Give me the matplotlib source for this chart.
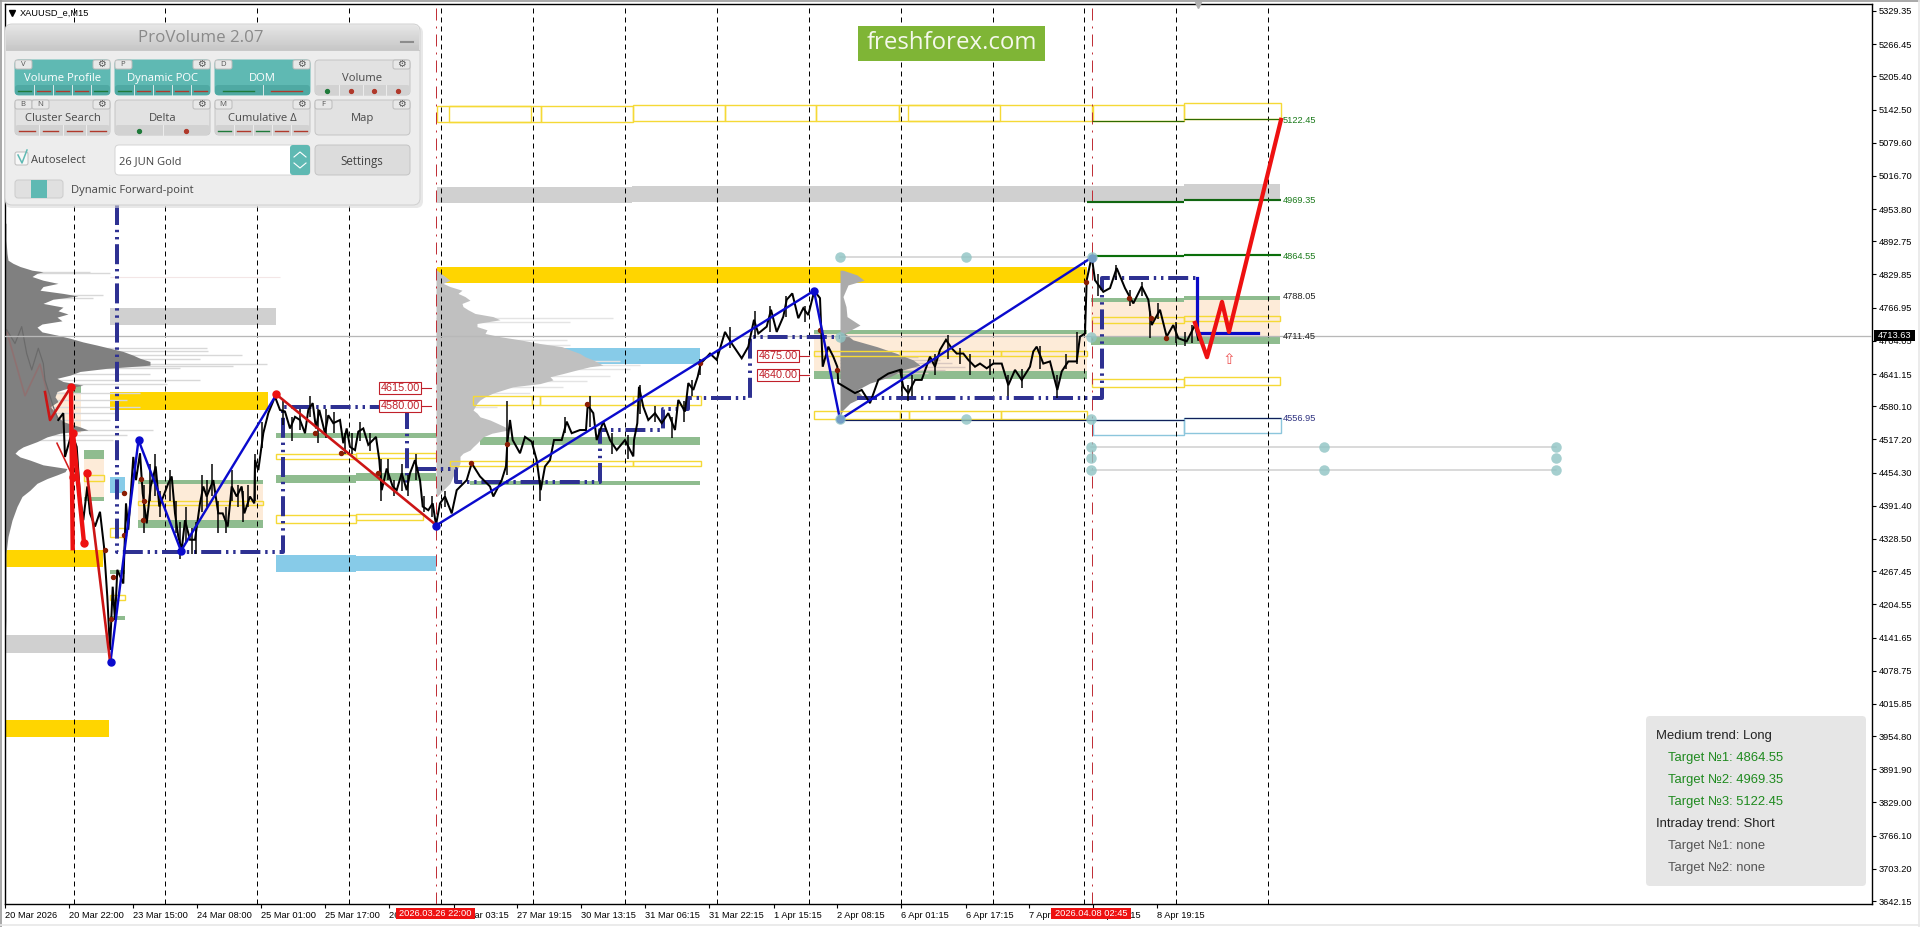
"""XAUUSD M15 chart with the ProVolume panel, zigzags and volume profiles."""
import numpy as np
import matplotlib
matplotlib.use("Agg")
import matplotlib.pyplot as plt
from matplotlib.patches import Rectangle, FancyBboxPatch

W, H = 1920, 927
LEFT, RIGHT, TOP, BOTTOM = 5, 1872, 4, 904
Y_LOW, Y_HIGH = 3636.5, 5342.6

# axis labels
ytick_vals = [5329.35, 5266.45, 5205.40, 5142.50, 5079.60, 5016.70, 4953.80, 4892.75, 4829.85,
              4766.95, 4704.05, 4641.15, 4580.10, 4517.20, 4454.30, 4391.40, 4328.50, 4267.45,
              4204.55, 4141.65, 4078.75, 4015.85, 3954.80, 3891.90, 3829.00, 3766.10, 3703.20, 3642.15]
xtick_bars = [5, 69, 133, 197, 261, 325, 389, 453.5, 517, 581, 645, 709, 773.5, 837, 901, 965.5, 1029, 1093, 1157]
xtick_labels = ["20 Mar 2026", "20 Mar 22:00", "23 Mar 15:00", "24 Mar 08:00", "25 Mar 01:00", "25 Mar 17:00",
                "26 Mar 10:00", "27 Mar 03:15", "27 Mar 19:15", "30 Mar 13:15", "31 Mar 06:15", "31 Mar 22:15",
                "1 Apr 15:15", "2 Apr 08:15", "6 Apr 01:15", "6 Apr 17:15", "7 Apr 10:15", "8 Apr 03:15", "8 Apr 19:15"]
grid_bars = [73.5, 165.4, 257.3, 349.2, 441.1, 533, 624.9, 716.8, 808.7, 900.6, 992.5, 1084.4, 1176.3, 1268.2]
session_bars = [436, 1091.5]
current_price = 4713.63

# price path
price_x = [6.7, 15, 21.7, 26.7, 31.7, 38.3, 43.3, 45, 53.3, 58.3, 63.3, 65, 71.7, 76.7, 80, 83.3, 87.3, 90, 95, 100,
           104, 107.3, 110, 112.7, 115, 117.3, 123.3, 126, 128.3, 133.3, 136, 140, 142.7, 146.7, 150.7, 155.7,
           159.3, 163.3, 168.3, 171.7, 175, 178.3, 181.7, 185, 190, 195, 200, 203.3, 206.7, 213.3, 218.3, 222.7,
           227.7, 231.7, 236.7, 241.7, 244.3, 250, 254.3, 255, 258.3, 263.3, 268.3, 275, 280, 285, 290, 295, 300,
           305, 308.3, 312.7, 316, 319.3, 325, 328.3, 333.3, 340, 343.3, 346.7, 350, 355, 358.3, 363.3, 368.3, 376,
           379.3, 381.7, 386.7, 392.7, 396.7, 401.7, 406.7, 410, 415, 420, 422.7, 428.3, 432.7, 436,
           440, 445, 451.7, 456.7, 466.7, 471.7, 480, 490, 493.3, 501.7, 506, 507.3, 510, 512.7, 520, 525, 531.7,
           536.7, 540.7, 545, 550, 554, 561.7, 566.7, 571.7, 580, 586, 587.7, 593.3, 596.7, 603.3, 610, 616.7, 625,
           633.3, 634, 637.3, 639, 643.3, 648.3, 655, 661.7, 668.3, 675, 678.3, 685, 688.3, 693.3, 697.7, 700.7,
           710, 716.7, 725, 731.7, 741.7, 748.3, 754, 758.3, 766.7, 771, 776.7, 783.3, 786.7, 792.3, 798.3, 803.3,
           808.3, 814.3, 820, 821.7, 822.7, 828.3, 833.3, 837.3, 838.3,
           855, 861.7, 870, 878.3, 888.3, 900, 903.3, 908.3, 915, 921.7, 930, 935, 940, 946, 951.7, 956.7, 963.3,
           968.3, 975, 980, 986.7, 993.3, 1001.7, 1008.3, 1015, 1021.7, 1030, 1033.3, 1036.7, 1043.3, 1050, 1057.3,
           1061.7, 1068.3, 1076.7, 1080, 1085, 1086.7, 1091.7, 1095, 1103.3, 1110, 1116.7, 1125, 1133.3, 1141.7,
           1148.3, 1151.7, 1160, 1166.7, 1173.3, 1178.3, 1186.7, 1195, 1198.3]
price_y = [4725, 4699, 4731, 4680, 4649, 4690, 4661, 4630, 4579, 4554, 4567, 4484, 4529, 4503, 4409, 4364, 4428, 4377,
           4352, 4380, 4314, 4219, 4118, 4238, 4175, 4270, 4244, 4396, 4346, 4484, 4440, 4491, 4415, 4358, 4428, 4466,
           4390, 4409, 4434, 4447, 4377, 4333, 4308, 4364, 4327, 4327, 4396, 4428, 4409, 4440, 4377, 4377, 4352, 4428,
           4409, 4428, 4377, 4409, 4396, 4478, 4459, 4529, 4567, 4598, 4573, 4570, 4538, 4560, 4554, 4529, 4573, 4586,
           4538, 4573, 4529, 4563, 4548, 4554, 4510, 4538, 4503, 4497, 4532, 4538, 4507, 4522, 4478, 4421, 4462, 4428,
           4421, 4453, 4421, 4453, 4478, 4440, 4390, 4383, 4396, 4355,
           4396, 4409, 4377, 4421, 4440, 4472, 4447, 4428, 4409, 4440, 4466, 4510, 4554, 4516, 4491, 4522, 4513, 4478,
           4421, 4466, 4478, 4516, 4516, 4551, 4529, 4535, 4535, 4582, 4567, 4516, 4551, 4516, 4497, 4516, 4485, 4516,
           4548, 4617, 4579, 4554, 4567, 4548, 4567, 4535, 4592, 4570, 4624, 4611, 4636, 4661, 4680, 4668, 4721, 4699,
           4671, 4693, 4744, 4718, 4731, 4763, 4721, 4750, 4782, 4794, 4747, 4766, 4753, 4799, 4785, 4706, 4655, 4693,
           4674, 4655, 4624,
           4605, 4611, 4586, 4630, 4642, 4649, 4617, 4605, 4630, 4630, 4674, 4655, 4687, 4706, 4690, 4680, 4680, 4668,
           4655, 4661, 4652, 4661, 4661, 4620, 4649, 4630, 4655, 4684, 4693, 4661, 4665, 4611, 4646, 4665, 4665, 4712,
           4718, 4819, 4864, 4819, 4797, 4804, 4842, 4804, 4775, 4807, 4782, 4734, 4763, 4712, 4734, 4709, 4703, 4734,
           4706]
MUTED_BARS = 10  # the first bars sit inside the left profile

# candle ranges that thicken the price path
wick_x = [144, 150, 155, 160, 170, 176, 180, 186, 192, 196, 202, 207, 212, 218, 226, 232, 238, 243, 248, 255, 262,
          283, 292, 300, 310, 318, 326, 334, 345, 352, 360, 370, 381, 388, 394, 402, 408, 416, 424, 432,
          445, 507, 540, 565, 590, 612, 628, 640, 655, 672, 684, 692, 700, 730, 755, 770, 786, 805,
          902, 908, 912, 935, 948, 960, 970, 990, 1008, 1022, 1040, 1057, 1066, 1077,
          1098, 1116, 1130, 1142, 1150, 1158, 1176, 1185, 1192]
wick_lo = [4340, 4400, 4410, 4370, 4400, 4340, 4290, 4320, 4300, 4300, 4380, 4390, 4410, 4340, 4340, 4400, 4390, 4360,
           4390, 4400, 4500, 4545, 4515, 4535, 4560, 4510, 4520, 4530, 4490, 4490, 4515, 4495, 4400, 4440, 4410, 4420,
           4410, 4440, 4380, 4370, 4390, 4450, 4400, 4530, 4540, 4490, 4480, 4565, 4550, 4520, 4550, 4600, 4640, 4690,
           4710, 4720, 4750, 4740, 4600, 4590, 4600, 4640, 4670, 4660, 4640, 4640, 4600, 4615, 4650, 4595, 4650, 4660,
           4790, 4820, 4770, 4790, 4710, 4745, 4700, 4695, 4700]
wick_hi = [4430, 4470, 4490, 4420, 4460, 4400, 4360, 4390, 4350, 4360, 4450, 4440, 4470, 4400, 4390, 4460, 4430, 4420,
           4430, 4490, 4550, 4590, 4560, 4575, 4600, 4575, 4575, 4570, 4530, 4530, 4550, 4530, 4480, 4480, 4440, 4470,
           4450, 4490, 4410, 4410, 4420, 4590, 4440, 4560, 4600, 4530, 4525, 4620, 4580, 4560, 4590, 4630, 4670, 4730,
           4760, 4770, 4790, 4770, 4650, 4620, 4640, 4680, 4715, 4690, 4680, 4670, 4640, 4650, 4695, 4640, 4680, 4720,
           4830, 4848, 4800, 4815, 4760, 4775, 4740, 4720, 4735]

# zigzags
blue_zz_x = [110.5, 138.5, 181, 276, np.nan, 436, 814, 840, 1091.7]
blue_zz_y = [4096, 4516, 4306, 4601, np.nan, 4354, 4799, 4555, 4862]
red_thick_x = [71, 72.7, np.nan, 73, 84]
red_thick_y = [4617, 4311, np.nan, 4529, 4321]
red_mid_x = [45, 50, 71, np.nan, 87, 110, np.nan, 276, 436]
red_mid_y = [4607, 4554, 4617, np.nan, 4453, 4097, np.nan, 4603, 4355]
red_thin_x = [57, 73]
red_thin_y = [4510, 4446]
faint_x = [7, 25, 40, 52]
faint_y = [4720, 4600, 4660, 4570]
forecast_x = [1195, 1207, 1222, 1229, 1281]
forecast_y = [4738, 4673, 4778, 4721, 5123]
blue_dots_x = [110.5, 138.5, 181, 436, 814, 840, 1091.7]
blue_dots_y = [4096, 4516, 4306, 4354, 4799, 4555, 4862]
red_dots_x = [71, 73, 73, 84, 87, 276]
red_dots_y = [4617, 4446, 4529, 4321, 4453, 4603]

# dynamic POC steps
poc_x = [117, 117, 282.5, 282.5, 407, 407, np.nan, 416, 456, 456, 600, 600, 663, 663, 688, 688, 750, 750, 840,
         np.nan, 857, 1102, 1102, 1197]
poc_y = [4962, 4304, 4304, 4579, 4579, 4435, np.nan, 4461, 4461, 4436, 4436, 4535, 4535, 4575, 4575, 4596, 4596,
         4711, 4711, np.nan, 4596, 4596, 4823, 4823]
poc_solid_x = [1197, 1197, 1258]
poc_solid_y = [4823, 4719, 4719]

# zones: left bar, right bar, upper price, lower price
gold_zones = [(6, 103, 4308, 4275), (110, 268, 4607, 4573), (437, 531, 4844, 4813), (531, 1087, 4844, 4814),
              (5, 109, 3985, 3953)]
gray_zones = [(110, 276, 4766, 4734), (5, 107, 4146, 4112), (437, 632, 4996, 4966), (632, 1184, 4998, 4967),
              (1184, 1280, 5001, 4971)]
sky_zones = [(110, 125, 4446, 4416), (276, 356, 4298, 4266), (356, 436, 4296, 4268), (523, 700, 4691, 4660)]
green_zones = [(84, 104, 4497, 4480), (84, 104, 4408, 4400), (72, 81, 4618, 4605), (138, 263, 4440, 4433),
               (138, 263, 4364, 4349), (276, 356, 4529, 4520), (356, 480, 4529, 4520), (480, 700, 4522, 4507),
               (276, 356, 4450, 4435), (356, 436, 4454, 4438), (110, 125, 4270, 4262), (110, 125, 4183, 4175),
               (470, 700, 4438, 4431), (814, 1087, 4725, 4717), (814, 1087, 4647, 4632), (1091, 1184, 4785, 4778),
               (1184, 1280, 4789, 4782), (1091, 1184, 4711, 4696), (1184, 1280, 4713, 4698)]
peach_zones = [(84, 104, 4480, 4408), (46, 81, 4607, 4529), (138, 263, 4433, 4364), (814, 1087, 4717, 4647),
               (1091, 1184, 4778, 4711), (1184, 1280, 4782, 4713)]
yellow_boxes = [(84, 104, 4450, 4438), (138, 263, 4400, 4393), (276, 356, 4490, 4480), (356, 436, 4491, 4482),
                (276, 356, 4374, 4359), (356, 423, 4376, 4364), (110, 125, 4349, 4332), (110, 125, 4222, 4213),
                (473, 532, 4600, 4582), (532, 540, 4600, 4582), (540, 633, 4600, 4582), (633, 701, 4600, 4582),
                (450, 532, 4476, 4467), (532, 633, 4476, 4467), (633, 701, 4476, 4467),
                (814, 900, 4685, 4675), (900, 1001, 4685, 4675), (1001, 1087, 4685, 4675),
                (814, 900, 4571, 4556), (900, 909, 4571, 4556), (909, 1001, 4571, 4556), (1001, 1087, 4571, 4556),
                (1092, 1184, 4749, 4738), (1184, 1280, 4751, 4742), (1092, 1184, 4632, 4617), (1184, 1280, 4636, 4620),
                (436.5, 531, 5149, 5118), (448.6, 540.6, 5149, 5118), (540.6, 632.5, 5149, 5118),
                (632.5, 724.5, 5151, 5120), (724.5, 816.4, 5151, 5120), (816.4, 899.2, 5151, 5120),
                (908.3, 1000, 5151, 5120), (899.2, 1092, 5151, 5120), (1093, 1184, 5151, 5121), (1184, 1281, 5155, 5125)]
skyline_boxes = [(1093, 1184, 4554, 4526), (1184, 1281, 4558, 4529)]

# target levels
target_lines = [(1092, 1184, 5121, 1.0, "#2E6B00"), (1184, 1281, 5125, 1.0, "#2E6B00"),
                (1087, 1184, 4967, 1.8, "#116611"), (1184, 1281, 4971, 1.8, "#116611"),
                (1091, 1184, 4864, 1.8, "#0B6F0B"), (1184, 1281, 4867, 1.8, "#0B6F0B"),
                (840, 1184, 4554, 1.0, "#10205A"), (1184, 1281, 4558, 1.0, "#10205A")]
target_vals = [5122.45, 4969.35, 4864.55, 4788.05, 4711.45, 4556.95]
target_cols = ["#1B7A1B", "#1B7A1B", "#1B7A1B", "#222222", "#222222", "#2E3180"]

# key levels
level_vals = [4615, 4580, 4675, 4640]
level_bars = [379, 379, 757, 757]

# handles of the measuring tool
handle_x = [840, 965.7, 1091.5, 840, 965.7, 1091, 840, 1091, 1091, 1323.7, 1556, 1091, 1556, 1091, 1323.7, 1556]
handle_y = [4863, 4863, 4863, 4556, 4556, 4556, 4711, 4711, 4503, 4503, 4503, 4482, 4482, 4459, 4459, 4459]
handle_lines = [(840, 1091, 4863), (1091, 1556, 4503), (1091, 1556, 4459)]

pivot_x = [105, 124, 124, 113, 111, 141, 144, 143, 315, 341, 378, 507, 471, 587, 700, 820, 837, 1086, 1129, 1151, 1166]
pivot_y = [4308, 4416, 4336, 4256, 4177, 4442, 4400, 4364, 4529, 4491, 4454, 4509, 4473, 4584, 4662, 4725, 4649, 4816,
           4785, 4747, 4709]

# volume profiles
prof1_price = [4927, 4895, 4870, 4857, 4851, 4845, 4838, 4835, 4832, 4826, 4819, 4813, 4807, 4800, 4794, 4789, 4783,
               4775, 4768, 4761, 4755, 4749, 4742, 4736, 4730, 4721, 4715, 4709, 4702, 4696, 4690, 4684, 4677, 4671,
               4665, 4658, 4652, 4646, 4639, 4633, 4627, 4620, 4614, 4608, 4598, 4589, 4579, 4570, 4560, 4551, 4541,
               4535, 4529, 4522, 4513, 4503, 4497, 4491, 4484, 4478, 4469, 4462, 4456, 4450, 4443, 4434, 4421, 4409,
               4390, 4364, 4333, 4301, 4238, 4175, 4112]
prof1_vol = [1, 1, 2, 3, 8, 15, 27, 38, 32, 27, 38, 53, 38, 35, 58, 73, 48, 38, 58, 53, 63, 52, 57, 37, 32, 37, 52, 65,
             78, 92, 105, 118, 128, 135, 145, 145, 102, 75, 65, 52, 58, 78, 62, 52, 50, 53, 45, 50, 53, 58, 75, 83, 55,
             42, 32, 18, 13, 10, 15, 25, 38, 62, 60, 52, 42, 32, 25, 17, 12, 7, 3, 1, 1, 1, 0]
prof1_spike_price = [4835, 4832, 4791, 4785, 4690, 4684, 4677, 4669, 4661, 4657, 4652, 4642, 4630, 4623, 4605, 4592,
                     4579, 4567, 4554, 4535, 4525, 4516]
prof1_spike_vol = [85, 105, 98, 88, 202, 203, 237, 195, 262, 228, 175, 145, 195, 162, 135, 122, 135, 112, 105, 148,
                   122, 108]
prof1_faint_price = [4825]
prof1_faint_vol = [280]
prof2_price = [4838, 4829, 4819, 4813, 4807, 4800, 4794, 4788, 4781, 4775, 4769, 4763, 4756, 4750, 4744, 4737, 4731,
               4725, 4718, 4712, 4706, 4699, 4693, 4687, 4680, 4674, 4668, 4661, 4658, 4655, 4649, 4642, 4636, 4630,
               4623, 4617, 4611, 4605, 4598, 4592, 4586, 4579, 4573, 4567, 4560, 4554, 4548, 4541, 4535, 4529, 4522,
               4516, 4510, 4503, 4497, 4491, 4485, 4472, 4459, 4447, 4434, 4421, 4409]
prof2_vol = [1, 7, 14, 7, 14, 26, 22, 29, 34, 26, 27, 32, 39, 57, 64, 41, 41, 51, 49, 64, 84, 104, 126, 134, 144, 149,
             157, 164, 167, 154, 141, 127, 114, 117, 104, 77, 67, 57, 49, 44, 41, 39, 37, 41, 44, 54, 61, 69, 72, 56,
             47, 44, 41, 37, 34, 27, 24, 24, 21, 17, 14, 7, 1]
prof2_spike_price = [4747, 4740, 4706, 4696, 4665, 4658, 4650, 4637, 4627, 4617, 4605, 4579]
prof2_spike_vol = [177, 134, 131, 134, 184, 204, 194, 174, 151, 127, 94, 61]
prof3_upper_price = [4838, 4829, 4819, 4810, 4788, 4769, 4750, 4734, 4718]
prof3_upper_vol = [3, 17, 24, 8, 3, 6, 7, 20, 4]
prof3_price = [4718, 4706, 4693, 4680, 4668, 4658, 4649, 4636, 4624, 4611, 4598, 4586, 4573, 4560]
prof3_vol = [5, 13, 37, 57, 73, 80, 63, 50, 30, 17, 23, 10, 3, 0]
prof3_spike_price = [4674, 4668, 4662, 4655, 4649, 4643]
prof3_spike_vol = [78, 100, 112, 125, 105, 88]

trend_lines = ["Medium trend: Long", "Target №1: 4864.55", "Target №2: 4969.35", "Target №3: 5122.45",
               "Intraday trend: Short", "Target №1: none", "Target №2: none"]
trend_colors = ["#222222", "#1F8A1F", "#1F8A1F", "#1F8A1F", "#222222", "#555555", "#555555"]

AXIS_FONT = "Liberation Sans"
UI_FONT = "Open Sans"
PX = 0.72  # points per pixel at dpi 100


def add_zones(ax, zones, color, z=1):
    for x0, x1, top, bot in zones:
        ax.add_patch(Rectangle((x0, bot), x1 - x0, top - bot, facecolor=color, edgecolor="none", zorder=z))


def add_boxes(ax, boxes, color, lw=1.4):
    for x0, x1, top, bot in boxes:
        ax.add_patch(Rectangle((x0, bot), x1 - x0, top - bot, fill=False, edgecolor=color, linewidth=lw * PX, zorder=3))


def add_profile(ax, base, levels, vols, spike_levels, spike_vols, color, spike_color):
    ax.hlines(spike_levels, base, np.array(spike_vols) + base, color=spike_color, linewidth=1.0, zorder=2)
    ax.fill_betweenx(levels, base, np.array(vols) + base, color=color, linewidth=0, zorder=2.2)


def rbox(ui, x0, y0, x1, y1, fc, ec="none", r=3, lw=0.7, z=1, alpha=None):
    ui.add_patch(FancyBboxPatch((x0 + r, y0 + r), x1 - x0 - 2 * r, y1 - y0 - 2 * r,
                                boxstyle=f"round,pad={r},rounding_size={r}", facecolor=fc, edgecolor=ec,
                                linewidth=lw, zorder=z, alpha=alpha))


def button(ui, x0, y0, x1, y1, label, active=False, keys=(), marks=()):
    teal = "#5FB9B3"
    fc = teal if active else "#E2E2E2"
    rbox(ui, x0, y0, x1, y1, fc, ec="#C4C4C4" if not active else teal, r=4, z=12)
    # key tabs and gear
    for i, key in enumerate(keys):
        rbox(ui, x0 + i * 17, y0, x0 + (i + 1) * 17, y0 + 9, "#E8E8E8", ec="#BBBBBB", r=2, z=13)
        ui.text(x0 + i * 17 + 8, y0 + 4.5, key, fontsize=5.6, color="#555555", ha="center", va="center",
                family=UI_FONT, zorder=14)
    rbox(ui, x1 - 17, y0, x1, y0 + 9, "#E8E8E8", ec="#BBBBBB", r=2, z=13)
    ui.text(x1 - 9, y0 + 4.2, "\u2699", fontsize=7, color="#555555", ha="center", va="center",
            family="DejaVu Sans", zorder=14)
    ui.text((x0 + x1) / 2, (y0 + y1) / 2 + 0.5, label, fontsize=8.1, color="white" if active else "#4A4A4A",
            ha="center", va="center", family=UI_FONT, zorder=14)
    if marks:
        rbox(ui, x0, y1 - 10, x1, y1, "#4FA9A3" if active else "#D2D2D2", r=3, z=13)
        w = (x1 - x0) / len(marks)
        for i, m in enumerate(marks):
            color = "#1F7A3A" if m[0] == "g" else "#B0392B"
            xc = x0 + (i + 0.5) * w
            if i > 0:
                ui.plot([x0 + i * w] * 2, [y1 - 10, y1], color="#F2F2F2", linewidth=0.6, zorder=14)
            if m.endswith("."):
                ui.plot([xc], [y1 - 4.5], "o", color=color, markersize=2.8, zorder=14)
            else:
                half = 0.33 * w
                ui.plot([xc - half, xc + half], [y1 - 4.5, y1 - 4.5], color=color, linewidth=1, zorder=14)


def draw_panel(ui):
    rbox(ui, 5, 26, 423, 208, "#D9D9D9", r=7, z=10, alpha=0.6)
    rbox(ui, 5, 24, 420, 205, "#EDEDED", ec="#D0D0D0", r=7, z=11)
    grad = np.linspace(0.90, 0.78, 30).reshape(-1, 1)
    im = ui.imshow(grad, extent=(6, 419, 50, 25), cmap="gray", vmin=0, vmax=1, aspect="auto", zorder=11.5)
    im.set_clip_path(FancyBboxPatch((6, 25), 413, 40, boxstyle="round,pad=0,rounding_size=6",
                                    transform=ui.transData))
    ui.set_xlim(0, W)
    ui.set_ylim(H, 0)
    ui.plot([6, 419], [50, 50], color="#C8C8C8", linewidth=0.7, zorder=12)
    ui.text(201, 38, "ProVolume 2.07", fontsize=12.2, color="#8A8A8A", ha="center", va="center",
            family=UI_FONT, zorder=12)
    ui.plot([401, 413], [42, 42], color="#8C8C8C", linewidth=1.5, zorder=12)

    x_cols = [(15, 110), (115, 210), (215, 310), (315, 410)]
    button(ui, x_cols[0][0], 60, x_cols[0][1], 95, "Volume Profile", True, ["V"], ["g", "r", "r", "r", "g"])
    button(ui, x_cols[1][0], 60, x_cols[1][1], 95, "Dynamic POC", True, ["P"], ["g", "r", "r", "r", "r"])
    button(ui, x_cols[2][0], 60, x_cols[2][1], 95, "DOM", True, ["D"], ["g", "r"])
    button(ui, x_cols[3][0], 60, x_cols[3][1], 95, "Volume", False, [], ["g.", "r.", "r.", "r."])
    button(ui, x_cols[0][0], 100, x_cols[0][1], 135, "Cluster Search", False, ["B", "N"], ["r", "r", "r", "r"])
    button(ui, x_cols[1][0], 100, x_cols[1][1], 135, "Delta", False, [], ["g.", "r."])
    button(ui, x_cols[2][0], 100, x_cols[2][1], 135, "Cumulative \u0394", False, ["M"], ["g", "r", "g", "r", "r"])
    button(ui, x_cols[3][0], 100, x_cols[3][1], 135, "Map", False, ["F"], [])

    # autoselect row
    rbox(ui, 15, 152, 28, 165, "#F7F7F7", ec="#BDBDBD", r=2, z=12)
    ui.plot([18, 22, 27], [155, 163, 150], color="#5FB9B3", linewidth=1.1, zorder=13)
    ui.text(31, 160, "Autoselect", fontsize=8, color="#444444", ha="left", va="center", family=UI_FONT, zorder=13)
    rbox(ui, 115, 145, 310, 175, "white", ec="#D4D4D4", r=4, z=12)
    rbox(ui, 290, 145, 310, 175, "#5FB9B3", r=3, z=13)
    ui.plot([294, 300, 306], [157, 152, 157], color="white", linewidth=0.8, zorder=14)
    ui.plot([294, 300, 306], [163, 168, 163], color="white", linewidth=0.8, zorder=14)
    ui.text(119, 161.5, "26 JUN Gold", fontsize=8, color="#444444", ha="left", va="center", family=UI_FONT, zorder=14)
    rbox(ui, 315, 145, 410, 175, "#DCDCDC", ec="#C4C4C4", r=4, z=12)
    ui.text(362, 161.5, "Settings", fontsize=8.3, color="#444444", ha="center", va="center", family=UI_FONT, zorder=14)
    # toggle
    rbox(ui, 15, 180, 63, 198, "#E0E0E0", ec="#CCCCCC", r=3, z=12)
    ui.add_patch(Rectangle((31, 180), 16, 18, facecolor="#5FB9B3", zorder=13))
    ui.text(71, 190.5, "Dynamic Forward-point", fontsize=8, color="#444444", ha="left", va="center",
            family=UI_FONT, zorder=13)


def main():
    fig = plt.figure(figsize=(W / 100, H / 100), dpi=100, facecolor="white")
    ax = fig.add_axes([LEFT / W, (H - BOTTOM) / H, (RIGHT - LEFT) / W, (BOTTOM - TOP) / H])
    ax.set_xlim(LEFT, RIGHT)
    ax.set_ylim(Y_LOW, Y_HIGH)

    add_zones(ax, peach_zones, "#FDEBD8", z=0.8)
    add_zones(ax, gold_zones, "#FFD500")
    add_zones(ax, gray_zones, "#D0D0D0")
    add_zones(ax, sky_zones, "#87CBE8")
    add_zones(ax, green_zones, "#8FBC8F")

    ax.hlines(prof1_faint_price, 110, prof1_faint_vol, color="#F3E6E6", linewidth=0.8, zorder=1.5)
    add_profile(ax, 5, prof1_price, prof1_vol, prof1_spike_price, prof1_spike_vol, "#808080", "#D8D8D8")
    add_profile(ax, 436, prof2_price, prof2_vol, prof2_spike_price, prof2_spike_vol, "#C0C0C0", "#E4E4E4")
    add_profile(ax, 840, prof3_price, prof3_vol, prof3_spike_price, prof3_spike_vol, "#8C8C8C", "#D8C8C0")
    ax.fill_betweenx(prof3_upper_price, 840, np.array(prof3_upper_vol) + 840, color="#ABABAB", linewidth=0, zorder=2.2)
    ax.plot(faint_x, faint_y, color="#A06060", linewidth=1.2, alpha=0.45, zorder=2.4)
    ax.plot(price_x[:MUTED_BARS], price_y[:MUTED_BARS], color="#6A6A6A", linewidth=1.2 * PX, zorder=2.4)

    add_boxes(ax, yellow_boxes, "#F5D936")
    add_boxes(ax, skyline_boxes, "#8CC6DC")

    for x in grid_bars:
        ax.axvline(x, color="black", linewidth=1 * PX, linestyle=(0, (5, 4)), zorder=3.2)
    for x in session_bars:
        ax.axvline(x, color="#C03038", linewidth=1 * PX, linestyle=(0, (12, 6, 2, 6)), zorder=3.3)
    ax.axhline(current_price, color="#B8B8B8", linewidth=1.3 * PX, zorder=3.4)

    for x0, x1, level, lw, color in target_lines:
        ax.plot([x0, x1], [level, level], color=color, linewidth=lw * PX * 1.2, zorder=3.5, solid_capstyle="butt")
    for x0, x1, level in handle_lines:
        ax.plot([x0, x1], [level, level], color="#CFCFCF", linewidth=1.5 * PX, zorder=3.5)

    ax.plot(poc_x, poc_y, color="#2E3192", linewidth=4 * PX, linestyle=(0, (5, 1.2, 0.6, 1.2, 0.6, 1.2)), zorder=4)
    ax.vlines(wick_x, wick_lo, wick_hi, color="black", linewidth=1.5 * PX, zorder=5)
    ax.plot(price_x[MUTED_BARS - 1:], price_y[MUTED_BARS - 1:], color="black", linewidth=2 * PX, zorder=5,
            solid_joinstyle="miter")
    ax.plot(pivot_x, pivot_y, "o", color="#8A1E05", markersize=4 * PX, zorder=5.5)
    ax.plot(poc_solid_x, poc_solid_y, color="#0A0AC8", linewidth=3.2 * PX, zorder=5.6)

    ax.plot(blue_zz_x, blue_zz_y, color="#0A0ACD", linewidth=2.4 * PX, zorder=6)
    ax.plot(red_thin_x, red_thin_y, color="#D31B1B", linewidth=1.6 * PX, zorder=6)
    ax.plot(red_mid_x, red_mid_y, color="#CC1515", linewidth=2.6 * PX, zorder=6)
    ax.plot(red_thick_x, red_thick_y, color="#EE1111", linewidth=4.4 * PX, zorder=6)
    ax.plot(forecast_x, forecast_y, color="#EE1111", linewidth=4.2 * PX, zorder=6.2)
    ax.plot(red_dots_x, red_dots_y, "o", color="#EE1111", markersize=7 * PX, zorder=6.3)
    ax.plot(blue_dots_x, blue_dots_y, "o", color="#0A0ACD", markersize=7 * PX, zorder=6.3)
    ax.plot(handle_x, handle_y, "o", color="#8FC4C4", alpha=0.8, markersize=10.5 * PX, markeredgewidth=0, zorder=7)

    for level, color in zip(target_vals, target_cols):
        ax.text(1283, level, f"{level:.2f}", fontsize=6.7, color=color, ha="left", va="center",
                family=AXIS_FONT, zorder=8)

    for level, x0 in zip(level_vals, level_bars):
        ax.text(x0 + 21, level, f"{level:.2f}", fontsize=7.8, color="#C0202A", ha="center", va="center",
                family=AXIS_FONT, zorder=8,
                bbox=dict(boxstyle="square,pad=0.1", facecolor="white", edgecolor="#C0202A", linewidth=0.8))
        ax.plot([x0 + 42, x0 + 52], [level, level], color="#C0202A", linewidth=0.8, zorder=8)

    ax.text(1229, 4669, "\u21e7", fontsize=11, color="#EE5555", ha="center", va="center",
            family="DejaVu Sans", zorder=8)

    # axes
    ax.yaxis.tick_right()
    ax.set_yticks(ytick_vals)
    ax.set_yticklabels([f"{v:.2f}" for v in ytick_vals], fontsize=6.7, family=AXIS_FONT)
    ax.set_xticks(xtick_bars)
    ax.set_xticklabels(xtick_labels, fontsize=6.7, family=AXIS_FONT, ha="left")
    ax.tick_params(axis="both", length=3, width=0.8, pad=2, colors="black")
    for spine in ax.spines.values():
        spine.set_linewidth(1.0)

    # overlay in pixel coordinates for the window furniture
    ui = fig.add_axes([0, 0, 1, 1], zorder=10)
    ui.set_xlim(0, W)
    ui.set_ylim(H, 0)
    ui.axis("off")
    ui.patch.set_alpha(0)

    ui.plot([0, W], [1, 1], color="#9A9A9A", linewidth=1.2)
    ui.plot([1, 1], [0, 927], color="#9A9A9A", linewidth=1.2)
    ui.plot([0, W], [925, 925], color="#E8E8E8", linewidth=1.2)
    ui.plot([W - 1, W - 1], [0, 927], color="#E8E8E8", linewidth=1.2)
    ui.plot([12], [12.5], marker="v", color="black", markersize=4)
    ui.text(20, 12.5, "XAUUSD_e,M15", fontsize=6.7, color="black", ha="left", va="center", family=AXIS_FONT)
    ui.plot([1198], [5], marker="v", color="#B0B0B0", markersize=4)

    draw_panel(ui)

    # logo
    ui.add_patch(Rectangle((858, 26), 187, 34.7, facecolor="#7FB536", zorder=5))
    ui.text(951.5, 43, "freshforex.com", fontsize=17.3, color="#F5F8EC", ha="center", va="center",
            family=UI_FONT, zorder=6)

    # trend box
    rbox(ui, 1646, 716, 1866, 886, "#E6E6E6", r=4, z=5)
    row_y = [736, 758, 780, 802, 824, 846, 868]
    for i, (line, color, y) in enumerate(zip(trend_lines, trend_colors, row_y)):
        x = 1656 if i in (0, 4) else 1668
        ui.text(x, y, line, fontsize=9.4, color=color, ha="left", va="center", family="Liberation Sans", zorder=6)

    # current price tag and session tags
    ui.add_patch(Rectangle((1874, 330), 41, 10.5, facecolor="black", zorder=6))
    ui.text(1894.5, 335.2, f"{current_price:.2f}", fontsize=6.7, color="white", ha="center", va="center",
            family=AXIS_FONT, zorder=7)
    for x0, x1, tag in [(396, 475, "2026.03.26 22:00"), (1051, 1131, "2026.04.08 02:45")]:
        ui.add_patch(Rectangle((x0, 908), x1 - x0, 11, facecolor="#EE1111", zorder=6))
        ui.text((x0 + x1) / 2, 913.5, tag, fontsize=6.7, color="white", ha="center", va="center",
                family=AXIS_FONT, zorder=7)

    fig.savefig("out.png", dpi=100)
    plt.close(fig)


if __name__ == "__main__":
    main()
